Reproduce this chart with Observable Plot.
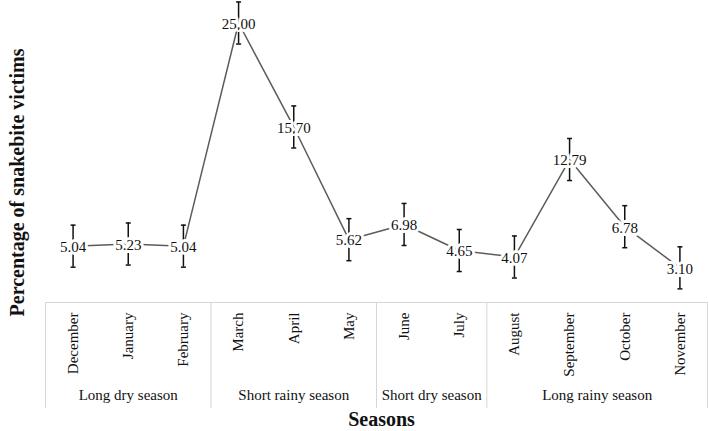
<!DOCTYPE html>
<html>
<head>
<meta charset="utf-8">
<script src="https://cdn.jsdelivr.net/npm/d3@7"></script>
<script src="https://cdn.jsdelivr.net/npm/@observablehq/plot@0.6"></script>
<style>
  html, body { margin: 0; padding: 0; background: #fff; }
  #chart svg { display: block; }
</style>
</head>
<body>
<div id="chart"></div>
<script>
const months = ["December", "January", "February", "March", "April", "May", "June", "July", "August", "September", "October", "November"];
const values = [5.04, 5.23, 5.04, 25.00, 15.70, 5.62, 6.98, 4.65, 4.07, 12.79, 6.78, 3.10];
const errors = [1.88, 1.88, 1.88, 1.88, 1.88, 1.88, 1.88, 1.88, 1.88, 1.88, 1.88, 1.88];
const seasons = ["Long dry season", "Short rainy season", "Short dry season", "Long rainy season"];
const seasonMonthCounts = [3, 3, 2, 4];
const xTitle = "Seasons";
const yTitle = "Percentage of snakebite victims";

const data = months.map((m, i) => ({i, month: m, value: values[i], err: errors[i]}));

// season boundaries and centres (in month-index units)
const bounds = [-0.5];
const seasonData = [];
seasonMonthCounts.forEach((n, k) => {
  const start = bounds[bounds.length - 1];
  bounds.push(start + n);
  seasonData.push({name: seasons[k], center: start + n / 2});
});

const capSymbol = {
  draw(context, size) {
    const r = Math.sqrt(size / Math.PI);
    context.moveTo(-r, 0);
    context.lineTo(r, 0);
  }
};

const font = "'Liberation Serif', 'Times New Roman', serif";

const chart = Plot.plot({
  width: 709,
  height: 431,
  marginLeft: 45,
  marginRight: 2,
  marginTop: 0,
  marginBottom: 23,
  style: {fontFamily: font, background: "#fff", color: "#111"},
  x: {type: "linear", domain: [-0.5, 11.5], axis: null},
  y: {domain: [0, 25], range: [302, 22.5], axis: null},
  marks: [
    Plot.ruleX(bounds, {x: d => d, insetTop: 302, stroke: "#d6d6d6", strokeWidth: 1}),
    Plot.ruleY([0], {stroke: "#d6d6d6", strokeWidth: 1}),
    Plot.line(data, {x: "i", y: "value", stroke: "#5c5c5c", strokeWidth: 1.5}),
    Plot.ruleX(data, {x: "i", y1: d => d.value - d.err, y2: d => d.value + d.err, stroke: "#111", strokeWidth: 1.5}),
    Plot.dot(data, {x: "i", y: d => d.value - d.err, symbol: capSymbol, r: 2.5, stroke: "#111", strokeWidth: 1.5, fill: "none"}),
    Plot.dot(data, {x: "i", y: d => d.value + d.err, symbol: capSymbol, r: 2.5, stroke: "#111", strokeWidth: 1.5, fill: "none"}),
    Plot.text(data, {x: "i", y: "value", text: d => d.value.toFixed(2), dy: 1, fontSize: 15, fill: "#111", stroke: "white", strokeWidth: 6}),
    Plot.text(data, {x: "i", y: 0, text: "month", rotate: -90, textAnchor: "end", dy: 10, fontSize: 15, fill: "#111"}),
    Plot.text(seasonData, {x: "center", frameAnchor: "bottom", text: "name", dy: -9, fontSize: 15, fill: "#111"}),
    Plot.text([xTitle], {frameAnchor: "bottom", text: d => d, dx: 5, dy: 17, fontSize: 20, fontWeight: "bold", fill: "#111"}),
    Plot.text([yTitle], {frameAnchor: "left", textAnchor: "middle", text: d => d, rotate: -90, dx: -28, dy: -22, fontSize: 20, fontWeight: "bold", fill: "#111"})
  ]
});
document.getElementById("chart").append(chart);
</script>
</body>
</html>
